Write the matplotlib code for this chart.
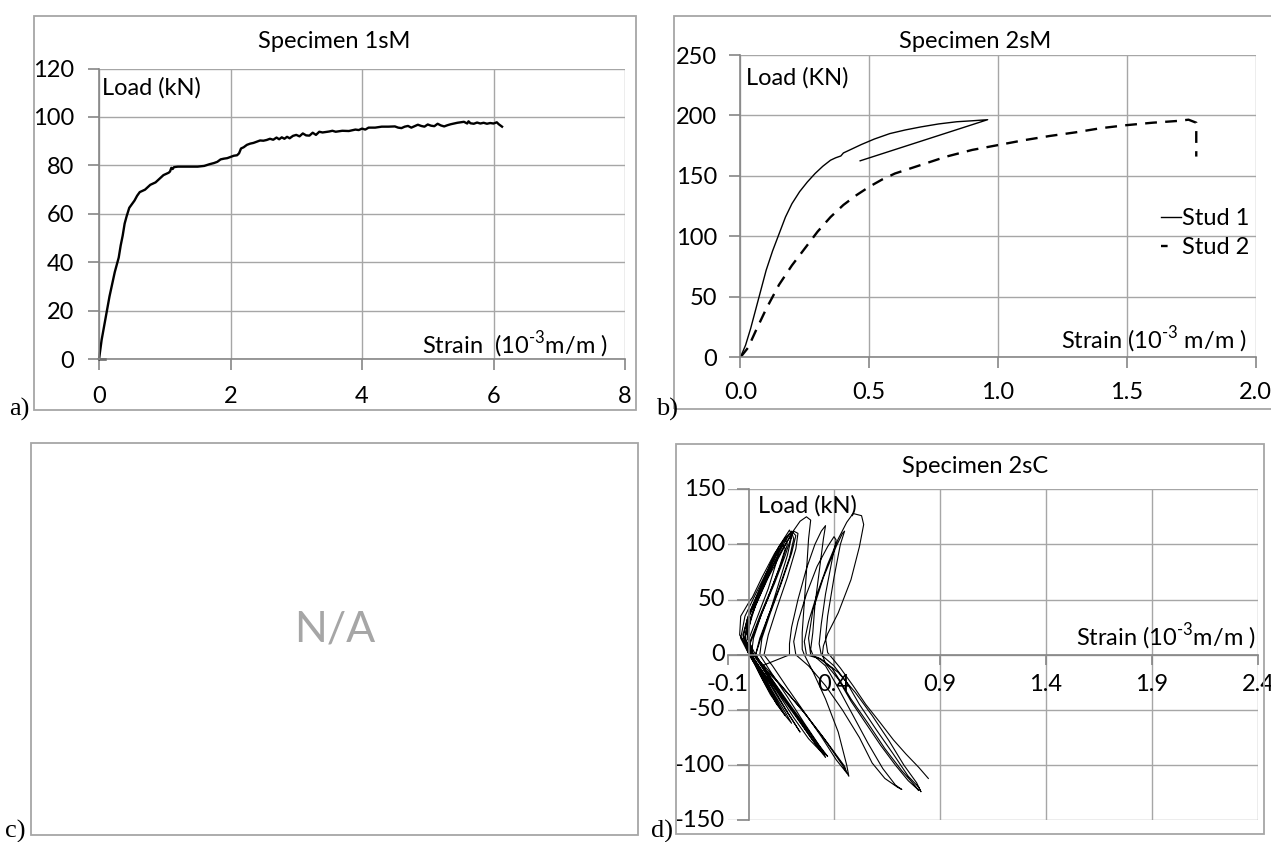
import numpy as np
import matplotlib
matplotlib.use("Agg")
import matplotlib.pyplot as plt
from matplotlib.patches import Rectangle
from matplotlib.lines import Line2D

W, H = 1271, 842

# ---- data ----
# a) Specimen 1sM
a_strain = [0.10, 0.0, 0.02, 0.04, 0.08, 0.12, 0.16, 0.20, 0.24, 0.28, 0.30, 0.33, 0.36, 0.39, 0.42,
            0.46, 0.50, 0.54, 0.58, 0.62, 0.66, 0.70, 0.74, 0.78, 0.82, 0.86, 0.90, 0.94, 0.98, 1.02,
            1.06, 1.08, 1.10, 1.12, 1.14, 1.20, 1.30, 1.40, 1.50, 1.60, 1.68, 1.75, 1.80, 1.85, 1.90,
            1.95, 2.00, 2.05, 2.10, 2.13, 2.16, 2.20, 2.25, 2.30, 2.35, 2.40, 2.45, 2.50, 2.55, 2.60,
            2.65, 2.70, 2.74, 2.78, 2.82, 2.86, 2.90, 2.95, 3.00, 3.05, 3.10, 3.15, 3.20, 3.25, 3.30,
            3.35, 3.40, 3.50, 3.55, 3.60, 3.70, 3.80, 3.90, 3.95, 4.00, 4.05, 4.10, 4.20, 4.30, 4.40,
            4.50, 4.55, 4.60, 4.65, 4.70, 4.75, 4.80, 4.85, 4.90, 4.95, 5.00, 5.05, 5.10, 5.15, 5.20,
            5.25, 5.30, 5.35, 5.40, 5.45, 5.50, 5.55, 5.60, 5.62, 5.65, 5.70, 5.75, 5.80, 5.85, 5.90,
            5.95, 6.00, 6.05, 6.08, 6.10, 6.13]
a_load = [0, 0, 4, 8, 14, 20, 26, 31, 36, 40, 42, 47, 51, 56, 59,
          62.5, 64, 65.5, 67.5, 69, 69.5, 70, 71, 72, 72.5, 73, 74, 75, 76, 76.5,
          77, 77.5, 79, 78.5, 79.3, 79.5, 79.5, 79.5, 79.5, 79.8, 80.5, 81, 81.5, 82.5, 82.8,
          83, 83.5, 84, 84.2, 85, 87, 87.5, 88.5, 89, 89.3, 89.8, 90.3, 90.2, 90.5, 91,
          90.6, 91.5, 90.8, 91.6, 91, 91.8, 91.2, 92.2, 92.6, 92, 93.2, 92.4, 92.3, 93.5, 92.6,
          93.9, 93.6, 94, 94.3, 93.9, 94.3, 94.2, 94.8, 94.6, 95.2, 94.8, 95.6, 95.6, 96, 96,
          96.1, 95.6, 95.4, 96, 96.3, 95.6, 96.2, 96.8, 96.3, 96, 96.9, 96.4, 96.2, 97.2, 96.5,
          96.1, 96.6, 97, 97.3, 97.6, 97.8, 98, 97.3, 98.2, 97.4, 97.2, 97.7, 97.3, 97.6, 97.2,
          97.5, 97.3, 97.8, 97, 96.6, 96]

# b) Specimen 2sM
stud1_strain = [0, 0.02, 0.04, 0.06, 0.08, 0.10, 0.125, 0.15, 0.175, 0.20, 0.23, 0.26, 0.29, 0.32,
                0.35, 0.37, 0.39, 0.40, 0.43, 0.47, 0.52, 0.58, 0.64, 0.70, 0.77, 0.84, 0.90, 0.96, 0.465]
stud1_load = [0, 10, 24, 40, 56, 72, 88, 102, 116, 127, 137, 145, 152, 158,
              163, 165, 166.5, 169, 172, 176, 180.5, 185, 188, 190.5, 193, 194.8, 195.6, 196.5, 162.5]
stud2_strain = [0, 0.03, 0.06, 0.10, 0.15, 0.20, 0.25, 0.30, 0.35, 0.40, 0.45, 0.50, 0.55, 0.60,
                0.70, 0.80, 0.90, 1.00, 1.10, 1.20, 1.30, 1.40, 1.50, 1.60, 1.70, 1.74, 1.77, 1.77]
stud2_load = [0, 8, 22, 40, 60, 76, 90, 104, 116, 126, 134, 141, 147, 152,
              159, 166, 171.5, 175.5, 179.5, 183, 186, 189.5, 192, 194, 195.5, 196.5, 194, 166]
stud_labels = ["Stud 1", "Stud 2"]

# d) Specimen 2sC, one list per load cycle
d_strain = [
    [0, -0.02, 0.01, 0.05, 0.09, 0.12, 0.14, 0.13, 0.09, 0.04, 0.0, 0.01, 0.05, 0.09, 0.13, 0.14, 0.10, 0.04, 0],
    [0, -0.03, 0.0, 0.05, 0.10, 0.14, 0.17, 0.18, 0.15, 0.10, 0.05, 0.0, 0.02, 0.07, 0.12, 0.17, 0.20, 0.17, 0.10, 0.04, 0.0],
    [0, -0.03, -0.01, 0.04, 0.09, 0.13, 0.16, 0.17, 0.14, 0.09, 0.04, 0.0, 0.01, 0.05, 0.10, 0.15, 0.17, 0.14, 0.08, 0.03, 0],
    [0, -0.04, -0.02, 0.03, 0.09, 0.14, 0.18, 0.19, 0.20, 0.17, 0.12, 0.06, 0.02, 0.01, 0.06, 0.12, 0.18, 0.24, 0.22, 0.14, 0.06, 0.01],
    [0.01, -0.045, -0.04, 0.0, 0.015, 0.06, 0.12, 0.17, 0.20, 0.21, 0.19, 0.14, 0.09, 0.05, 0.03, 0.08, 0.15, 0.22, 0.29, 0.36, 0.35, 0.27, 0.18, 0.10, 0.03],
    [0.03, -0.01, 0.01, 0.06, 0.12, 0.17, 0.20, 0.22, 0.20, 0.15, 0.10, 0.06, 0.05, 0.10, 0.18, 0.26, 0.33, 0.37, 0.34, 0.25, 0.15, 0.07, 0.02],
    [0.01, -0.02, 0.0, 0.06, 0.11, 0.16, 0.19, 0.20, 0.18, 0.14, 0.10, 0.05, 0.03, 0.07, 0.14, 0.21, 0.28, 0.34, 0.35, 0.31, 0.22, 0.13, 0.05, 0.01],
    [0.02, -0.02, 0.0, 0.05, 0.11, 0.17, 0.21, 0.23, 0.22, 0.18, 0.13, 0.09, 0.07, 0.11, 0.18, 0.26, 0.34, 0.41, 0.46, 0.45, 0.37, 0.27, 0.17, 0.08, 0.02],
    [0.02, -0.01, 0.03, 0.09, 0.15, 0.20, 0.24, 0.27, 0.29, 0.28, 0.27, 0.26, 0.25, 0.25, 0.26, 0.30, 0.36, 0.42, 0.46, 0.47, 0.44, 0.35, 0.25, 0.15, 0.06, 0.19],
    [0.19, 0.19, 0.20, 0.23, 0.27, 0.31, 0.34, 0.36, 0.35, 0.33, 0.31, 0.30, 0.29, 0.30, 0.36, 0.42, 0.49, 0.56, 0.63, 0.69, 0.72, 0.70, 0.64, 0.58, 0.52, 0.44, 0.36, 0.28, 0.22],
    [0.22, 0.21, 0.23, 0.27, 0.32, 0.37, 0.40, 0.41, 0.39, 0.36, 0.34, 0.33, 0.34, 0.40, 0.46, 0.52, 0.60, 0.68, 0.75, 0.80, 0.81, 0.79, 0.73, 0.66, 0.58, 0.50, 0.42, 0.34, 0.27],
    [0.27, 0.26, 0.28, 0.32, 0.37, 0.42, 0.46, 0.49, 0.53, 0.54, 0.52, 0.48, 0.42, 0.37, 0.35, 0.345, 0.36, 0.42, 0.48, 0.55, 0.62, 0.69, 0.75, 0.79, 0.80, 0.78, 0.72, 0.64, 0.56, 0.48, 0.43, 0.39, 0.33, 0.29],
    [0.29, 0.28, 0.30, 0.35, 0.41, 0.44, 0.45, 0.43, 0.40, 0.37, 0.36, 0.37, 0.43, 0.49, 0.55, 0.62, 0.68, 0.74, 0.80, 0.845],
]
d_load = [
    [0, 15, 35, 55, 75, 90, 95, 85, 60, 35, 15, 0, -15, -30, -45, -47, -33, -12, 0],
    [0, 18, 38, 60, 82, 98, 105, 100, 82, 58, 35, 10, -3, -20, -38, -55, -62, -52, -30, -10, 0],
    [0, 14, 32, 55, 75, 92, 100, 96, 78, 52, 28, 8, -2, -18, -36, -50, -55, -47, -28, -10, 0],
    [0, 15, 35, 55, 78, 98, 110, 113, 108, 90, 65, 38, 15, 0, -14, -32, -52, -70, -64, -40, -15, 0],
    [0, 18, 35, 48, 52, 70, 92, 106, 111, 105, 88, 60, 35, 12, 0, -15, -35, -55, -75, -93, -88, -66, -42, -20, 0],
    [0, 15, 35, 58, 85, 103, 112, 108, 92, 64, 38, 15, 0, -15, -38, -62, -82, -92, -86, -62, -36, -14, 0],
    [0, 16, 36, 62, 84, 102, 110, 107, 90, 65, 40, 15, 0, -14, -36, -57, -76, -88, -90, -80, -56, -32, -12, 0],
    [0, 15, 35, 55, 80, 100, 112, 110, 96, 70, 42, 18, 0, -10, -30, -52, -74, -95, -107, -101, -80, -55, -32, -12, 0],
    [0, 20, 45, 70, 92, 110, 121, 125, 122, 105, 75, 48, 20, 5, 0, -15, -40, -70, -100, -110, -100, -75, -50, -28, -10, 0],
    [0, 10, 25, 50, 78, 100, 112, 117, 105, 75, 45, 20, 5, 0, -10, -30, -55, -80, -103, -118, -122, -120, -112, -98, -75, -50, -28, -10, 0],
    [0, 12, 30, 55, 80, 98, 107, 104, 85, 55, 28, 10, 0, -10, -25, -45, -68, -90, -110, -120, -124, -116, -100, -78, -55, -34, -16, -4, 0],
    [0, 12, 30, 55, 82, 105, 120, 128, 126, 118, 98, 68, 38, 19, 8, 0, -8, -22, -42, -62, -82, -100, -114, -121, -123, -118, -105, -85, -62, -40, -24, -12, -3, 0],
    [0, 15, 40, 70, 98, 110, 112, 100, 70, 35, 15, 2, -12, -28, -45, -62, -77, -90, -102, -112],
]

a_xticks = [0, 2, 4, 6, 8]
a_yticks = [0, 20, 40, 60, 80, 100, 120]
b_xticks = [0.0, 0.5, 1.0, 1.5, 2.0]
b_yticks = [0, 50, 100, 150, 200, 250]
d_xticks = [-0.1, 0.4, 0.9, 1.4, 1.9, 2.4]
d_yticks = [-150, -100, -50, 0, 50, 100, 150]

plt.rcParams['font.family'] = ['Lato', 'DejaVu Sans']
plt.rcParams['mathtext.fontset'] = 'custom'
plt.rcParams['mathtext.rm'] = 'Lato'

GRID = '#a6a6a6'
AXIS = '#868686'
FS = 17
SUP = r'$^{\text{-3}}$'

fig = plt.figure(figsize=(W / 100, H / 100), dpi=100)


def add_axes_px(left, top, right, bottom):
    return fig.add_axes([left / W, 1 - bottom / H, (right - left) / W, (bottom - top) / H])


def frame_px(left, top, right, bottom):
    fig.add_artist(Rectangle((left / W, 1 - bottom / H), (right - left) / W, (bottom - top) / H,
                             transform=fig.transFigure, fill=False, ec='#a6a6a6', lw=1.3))


def text_px(x, y, s, **kw):
    kw.setdefault('fontsize', FS)
    kw.setdefault('va', 'center')
    fig.text(x / W, 1 - y / H, s, **kw)


def style(ax):
    for s in ['top', 'right']:
        ax.spines[s].set_visible(False)
    for s in ['left', 'bottom']:
        ax.spines[s].set_color(AXIS)
        ax.spines[s].set_linewidth(1.2)
    ax.grid(True, color=GRID, lw=1.0)
    ax.set_axisbelow(True)
    ax.tick_params(direction='out', length=8, width=1.2, color=AXIS, labelsize=FS)


# frames round each panel
frame_px(33.6, 16, 636, 410)
frame_px(674, 16, 1280, 409)
frame_px(30.7, 442.6, 637.6, 835)
frame_px(676, 444, 1263.6, 834)

# ---- a) ----
ax = add_axes_px(99, 68.5, 625, 359.3)
style(ax)
ax.plot(a_strain, a_load, color='black', lw=1.7, clip_on=False)
ax.set_xlim(0, 8)
ax.set_ylim(0, 120)
ax.set_xticks(a_xticks)
ax.set_yticks(a_yticks)
ax.tick_params(axis='y', pad=10)
ax.tick_params(axis='x', pad=11)
text_px(334, 41.7, 'Specimen 1sM', ha='center')
text_px(102, 88, 'Load (kN)', ha='left')
text_px(608, 345, 'Strain  (10' + SUP + 'm/m )', ha='right')
text_px(19, 409, 'a)', family='Liberation Serif', fontsize=19, ha='center')

# ---- b) ----
ax = add_axes_px(740.4, 55, 1255.5, 357.3)
style(ax)
ax.plot(stud1_strain, stud1_load, color='black', lw=1.0)
ax.plot(stud2_strain, stud2_load, color='black', lw=1.7, dashes=(5, 3.5))
ax.set_xlim(0, 2.0)
ax.set_ylim(0, 250)
ax.set_xticks(b_xticks)
ax.set_xticklabels([f'{v:.1f}' for v in b_xticks])
ax.set_yticks(b_yticks)
ax.tick_params(axis='y', pad=9)
ax.tick_params(axis='x', pad=10)
handles = [Line2D([], [], color='black', lw=1.0),
           Line2D([], [], color='black', lw=1.7, dashes=(2.8, 12))]
ax.legend(handles, stud_labels, loc='center right', bbox_to_anchor=(0.988, 0.411), frameon=False,
          fontsize=FS, handlelength=0.85, handletextpad=0.05, labelspacing=0.35,
          borderpad=0, borderaxespad=0)
text_px(975, 41.7, 'Specimen 2sM', ha='center')
text_px(745.7, 78, 'Load (KN)', ha='left')
text_px(1246.5, 340, 'Strain (10' + SUP + ' m/m )', ha='right')
text_px(667, 409, 'b)', family='Liberation Serif', fontsize=19, ha='center')

# ---- c) ----
text_px(334.6, 629.7, 'N/A', ha='center', fontsize=31, color='#a6a6a6')
text_px(15, 831, 'c)', family='Liberation Serif', fontsize=19, ha='center')

# ---- d) ----
ax = add_axes_px(728, 489.2, 1258, 820.4)
style(ax)
ax.plot(np.concatenate(d_strain), np.concatenate(d_load), color='black', lw=0.8)
ax.set_xlim(-0.1, 2.4)
ax.set_ylim(-150, 150)
ax.spines['left'].set_position(('data', 0))
ax.spines['bottom'].set_position(('data', 0))
ax.set_xticks(d_xticks)
ax.set_xticklabels([f'{v:.1f}' for v in d_xticks])
ax.set_yticks(d_yticks)
ax.set_yticklabels([])
ax.tick_params(axis='x', pad=7, length=7)
ax.tick_params(axis='y', length=9)
ax.get_xgridlines()[0].set_visible(False)
for v in d_yticks:
    ax.text(-0.114, v, f'{v}', ha='right', va='center', fontsize=FS)
text_px(975.4, 466.6, 'Specimen 2sC', ha='center')
text_px(757.5, 505.9, 'Load (kN)', ha='left')
text_px(1255.5, 636.3, 'Strain (10' + SUP + 'm/m )', ha='right')
text_px(662, 831, 'd)', family='Liberation Serif', fontsize=19, ha='center')

fig.savefig('out.png', dpi=100)
